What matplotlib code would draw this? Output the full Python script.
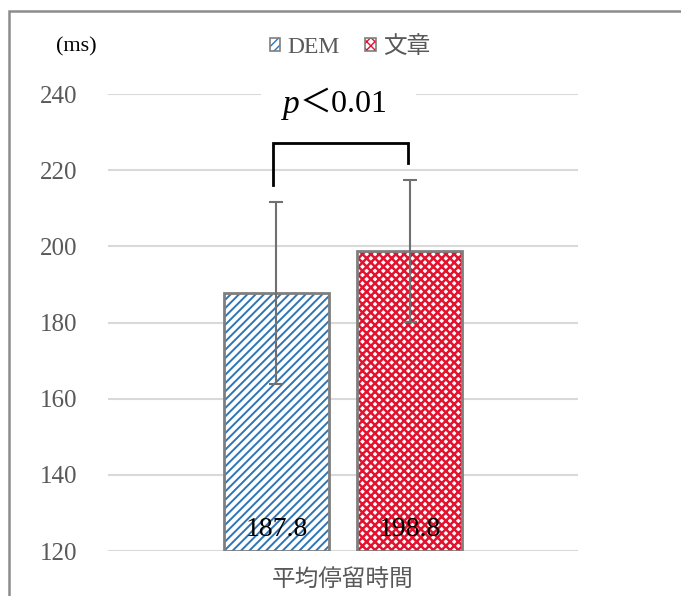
import matplotlib
matplotlib.use("Agg")
import matplotlib.pyplot as plt
from matplotlib.patches import Rectangle
from matplotlib.legend_handler import HandlerTuple

# ---- data ----
categories = ["平均停留時間"]
series_names = ["DEM", "文章"]
means = [187.8, 198.8]
errors = [23.9, 18.6]
value_labels = ["187.8", "198.8"]
y_ticks = [120, 140, 160, 180, 200, 220, 240]
unit_label = "(ms)"
sig_p = "p"
sig_rest = "＜0.01"

plt.rcParams['font.family'] = ['Liberation Serif', 'Noto Sans CJK JP']

W, H = 681, 596
fig = plt.figure(figsize=(W / 100, H / 100), dpi=100)
ax = fig.add_axes([108 / W, 1 - 551 / H, 470 / W, (551 - 94) / H])

hatch_colors = ['#2E75B6', '#E3122F']
hatches = ['////', 'xxxx']
hatch_lw = [1.4, 1.8]
edge_gray = '#7F7F7F'
tick_gray = '#595959'

bar_width = 0.447
offsets = [-0.283, 0.283]
xs = [offsets[i] for i in range(len(means))]

for i, (x, m) in enumerate(zip(xs, means)):
    with plt.rc_context({'hatch.linewidth': hatch_lw[i]}):
        ax.bar(x, m - 120, bottom=120, width=bar_width, color='white',
               edgecolor=hatch_colors[i], hatch=hatches[i], linewidth=0,
               zorder=2)
    ax.bar(x, m - 120, bottom=120, width=bar_width, fill=False,
           edgecolor=edge_gray, linewidth=2, zorder=3)
    ax.errorbar(x, m, yerr=errors[i], fmt='none', ecolor='#707070',
                elinewidth=1.5, capsize=5, capthick=1.5, zorder=4)
    ax.text(x, 122.3, value_labels[i], ha='center', va='bottom',
            fontsize=20, color='black', zorder=5)

# significance bracket
top = max(m + e for m, e in zip(means, errors)) + 9.7
legs = [m + e + 4.4 for m, e in zip(means, errors)]
ax.plot([xs[0] - 0.015, xs[0] - 0.015, xs[1] - 0.006, xs[1] - 0.006],
        [legs[0], top, top, legs[1]], color='black', linewidth=2, zorder=5,
        solid_joinstyle='miter')
# white box behind the significance text (breaks the gridline)
ax.add_patch(Rectangle((-0.35, 233.5), 0.66, 8, facecolor='white',
                       edgecolor='none', zorder=1.5, clip_on=False))
ax.text(-0.185, 237.3, sig_p, ha='right', va='center', fontsize=24,
        style='italic', color='black', zorder=6)
ax.text(-0.185, 237.3, sig_rest, ha='left', va='center', fontsize=23,
        color='black', zorder=6)

ax.set_xlim(-1, 1)
ax.set_ylim(120, 240)
ax.set_yticks(y_ticks)
ax.set_yticklabels([str(t) for t in y_ticks], fontsize=18, color=tick_gray)
ax.tick_params(axis='y', length=0, pad=22)
ax.set_xticks([0])
ax.set_xticklabels(categories, fontsize=17, color=tick_gray,
                   family=['Noto Sans CJK JP'])
ax.tick_params(axis='x', length=0, pad=12)
ax.grid(axis='y', color='#D9D9D9', linewidth=1.5, zorder=0)
ax.set_axisbelow(True)
for s in ax.spines.values():
    s.set_visible(False)

# legend
handles = []
for i in range(2):
    with plt.rc_context({'hatch.linewidth': 1.0}):
        hp = Rectangle((0, 0), 1, 1, facecolor='white', edgecolor=hatch_colors[i],
                       hatch=hatches[i], linewidth=0)
    bp = Rectangle((0, 0), 1, 1, fill=False, edgecolor=edge_gray, linewidth=1.2)
    handles.append((hp, bp))
fig.legend(handles, series_names, loc='center', bbox_to_anchor=(350 / W, 1 - 47 / H),
           ncol=2, frameon=False, fontsize=17, handlelength=0.45,
           handleheight=0.45, handletextpad=0.3, columnspacing=1.1,
           labelcolor=tick_gray,
           handler_map={tuple: HandlerTuple(ndivide=1, pad=0)})

fig.text(76 / W, 1 - 47 / H, unit_label, ha='center', va='center', fontsize=16,
         color='black')

# outer chart border (left & top visible)
fig.add_artist(Rectangle((8.5 / W, -0.2), 2, 1 - 11 / H + 0.2, fill=False,
                         edgecolor='#8C8C8C', linewidth=1.8,
                         transform=fig.transFigure))

fig.savefig('out.png', dpi=100)
